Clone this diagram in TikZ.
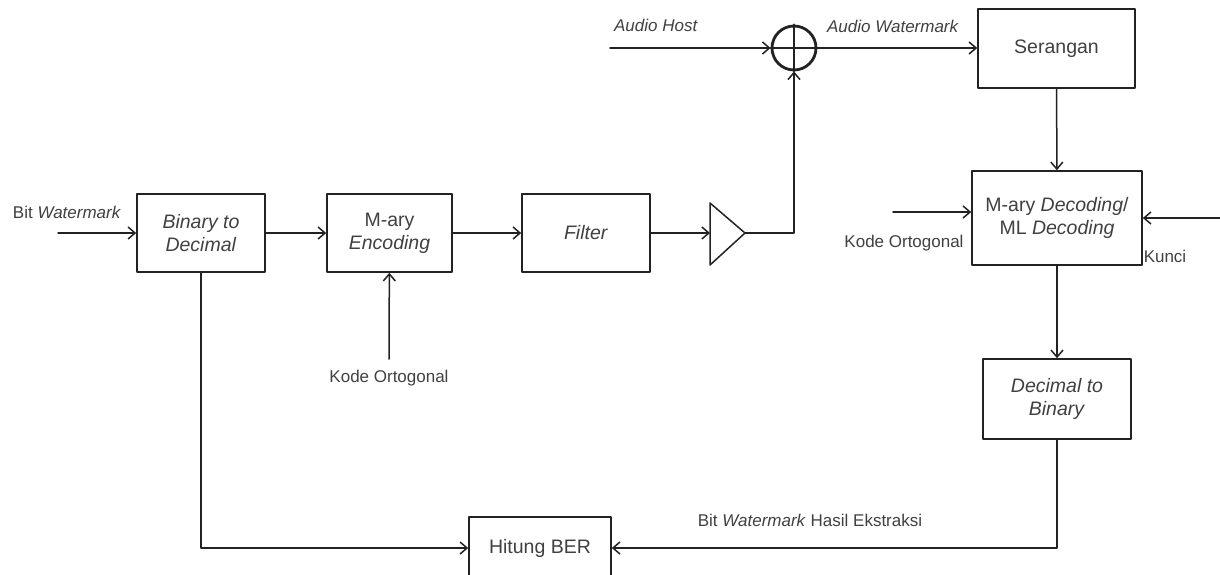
\documentclass[tikz,border=0pt]{standalone}
\usepackage{fontspec}
\setmainfont{Liberation Sans}
\usetikzlibrary{arrows.meta}

\definecolor{txtgray}{RGB}{64,64,64}
\definecolor{linegray}{RGB}{34,34,34}

\tikzset{
    block/.style={draw=linegray, line width=1.6pt, align=center, text=txtgray,
        font=\fontsize{19.5}{23}\selectfont, minimum width=128, minimum height=78, inner sep=0pt},
    lbl/.style={text=txtgray, font=\fontsize{17}{20}\selectfont, inner sep=0pt},
    sig/.style={draw=linegray, line width=1.5pt, -{Straight Barb[length=7pt,width=12pt]}},
    wire/.style={draw=linegray, line width=1.5pt}
}

\begin{document}
\begin{tikzpicture}[
    x=1pt, y=-1pt,
    line cap=round,
    line join=round
]
\useasboundingbox (0,0) rectangle (1220,574);
\clip (0,0) rectangle (1220,574);

% blocks
\node[block] (b2d) at (201,233) {\textit{Binary to}\\\textit{Decimal}};
\node[block, minimum width=125] (enc) at (389.5,233) {M-ary\\\textit{Encoding}};
\node[block] (filt) at (586,233) {\textit{Filter}};
\node[block, minimum width=157, minimum height=79] (atk) at (1056.5,48.5) {Serangan};
\node[block, minimum width=170, minimum height=94] (dec) at (1057,218) {M-ary \textit{Decoding}/\\ML \textit{Decoding}};
\node[block, minimum width=148, minimum height=80] (d2b) at (1057,399) {\textit{Decimal to}\\\textit{Binary}};
\node[block, minimum width=142, minimum height=62] (ber) at (540,548) {Hitung BER};

% adder
\node[draw=linegray, line width=2.8pt, circle, minimum size=44, inner sep=0pt] (sum) at (794,48) {};
\draw[wire, line width=2.4pt] (sum.north) -- (sum.south);
\draw[wire, line width=2.4pt] (sum.west) -- (sum.east);

% amplifier
\coordinate (ampL) at (710,233);
\coordinate (ampR) at (745,233);
\draw[wire] (710,203) -- (ampR) -- (710,265) -- cycle;

% free ends
\coordinate (bitin) at (58,233);
\coordinate (hostin) at (610,48);
\coordinate (kode1) at (389,359);
\coordinate (kode2) at (893,212);
\coordinate (kunci) at (1220,218);

% labels
\node[lbl] (lbit) at (67,212) {Bit \textit{Watermark}};
\node[lbl] (lhost) at (656,25) {\textit{Audio Host}};
\node[lbl] (lwm) at (893,26) {\textit{Audio Watermark}};
\node[lbl] (lkode1) at (389,378) {Kode Ortogonal};
\node[lbl] (lkode2) at (904,243) {Kode Ortogonal};
\node[lbl] (lkunci) at (1165,256) {Kunci};
\node[lbl] (lhasil) at (810,520) {Bit \textit{Watermark} Hasil Ekstraksi};

% connectors
\draw[sig] (bitin) -- (b2d);
\draw[sig] (b2d) -- (enc);
\draw[sig] (enc) -- (filt);
\draw[sig] (filt) -- (ampL);
\draw[sig] (ampR) -| (sum.south);
\draw[sig] (hostin) -- (sum.west);
\draw[sig] (sum.east) -- (atk.west |- sum.east);
\draw[sig] (atk) -- (dec);
\draw[sig] (kode1) -- (enc);
\draw[sig] (kode2) -- (kode2 -| dec.west);
\draw[sig] (kunci) -- (kunci -| dec.east);
\draw[sig] (dec) -- (d2b);
\draw[sig] (d2b.south) |- (ber.east);
\draw[sig] (b2d.south) |- (ber.west);
\end{tikzpicture}
\end{document}
